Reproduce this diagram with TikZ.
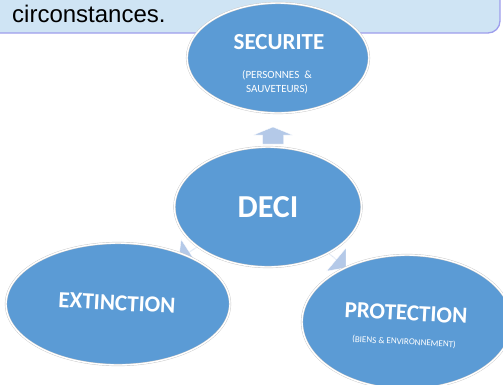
\documentclass[tikz,border=0pt]{standalone}
\usepackage{fontspec}
\setmainfont{Carlito}
\newfontfamily\notefont{Liberation Sans}
\usetikzlibrary{shapes.geometric,shapes.arrows,positioning}
\definecolor{ovalblue}{HTML}{5B9BD5}
\definecolor{arrowblue}{HTML}{B4C9E8}
\definecolor{notefill}{HTML}{CFE4F4}
\definecolor{noteline}{HTML}{9E9EEC}
\tikzset{
    %Define style for ovals
    oval/.style={
           ellipse,
           draw=black!22, double=white, double distance=1.4pt,
           line width=0.4pt,
           fill=ovalblue,
           inner sep=0pt},
    %Define style for texts in ovals
    bigtitle/.style={
           text=white,
           inner sep=0pt,
           font=\fontsize{23}{26}\selectfont\bfseries},
    smalltitle/.style={
           text=white,
           inner sep=0pt,
           font=\fontsize{#1}{#1}\selectfont},
    % Define arrow style
    blockarrow/.style={
           fill=arrowblue,
           draw=white, line width=0.3pt},
    diagarrow/.style={
           blockarrow,
           single arrow,
           inner sep=0pt,
           single arrow tip angle=100,
           single arrow head extend=5pt,
           minimum width=30pt,
           minimum height=36pt}
}
\begin{document}
\begin{tikzpicture}[x=1pt,y=-1pt]
\useasboundingbox (0,0) rectangle (503,384);
 %note box
\draw[fill=notefill, draw=noteline, line width=1.3pt, rounded corners=12pt]
    (-20,-40) rectangle (500,33);
\node[anchor=base west, inner sep=0pt, font=\notefont\fontsize{24}{28}\selectfont] (note)
    at (12,22) {circonstances.};
 %arrows
\coordinate (uptip) at (273,127);
\draw[blockarrow] (uptip) -- ++(19.5,8) -- ++(-9,0) -- ++(0,9) -- ++(-21,0)
    -- ++(0,-9) -- ++(-9,0) -- cycle;
\node[diagarrow, rotate=213] (left) at (194,249) {};
\node[diagarrow, rotate=-40] (right) at (332,256) {};
 %ovals
\node[oval, minimum width=182pt, minimum height=110pt] (secu) at (278,58) {};
\node[oval, minimum width=187pt, minimum height=120pt] (deci) at (268,207) {};
\node[oval, minimum width=224pt, minimum height=122pt] (ext) at (118,304) {};
\node[oval, minimum width=210pt, minimum height=134pt] (prot) at (407,322) {};
 %texts
\node[bigtitle] (secut) at (279,42) {SECURITE};
\node[smalltitle=11] (secus1) at (277,75) {(PERSONNES~~\&};
\node[smalltitle=11] (secus2) at (277,89) {SAUVETEURS)};
\node[bigtitle, font=\fontsize{32}{36}\selectfont\bfseries] (decit) at (268,207) {DECI};
\node[bigtitle, rotate=-3] (extt) at (117,303) {EXTINCTION};
\node[bigtitle, rotate=-3] (prott) at (406,313) {PROTECTION};
\node[smalltitle=9, rotate=-3] (prots) at (404,342) {(BIENS \& ENVIRONNEMENT)};
\end{tikzpicture}
\end{document}
